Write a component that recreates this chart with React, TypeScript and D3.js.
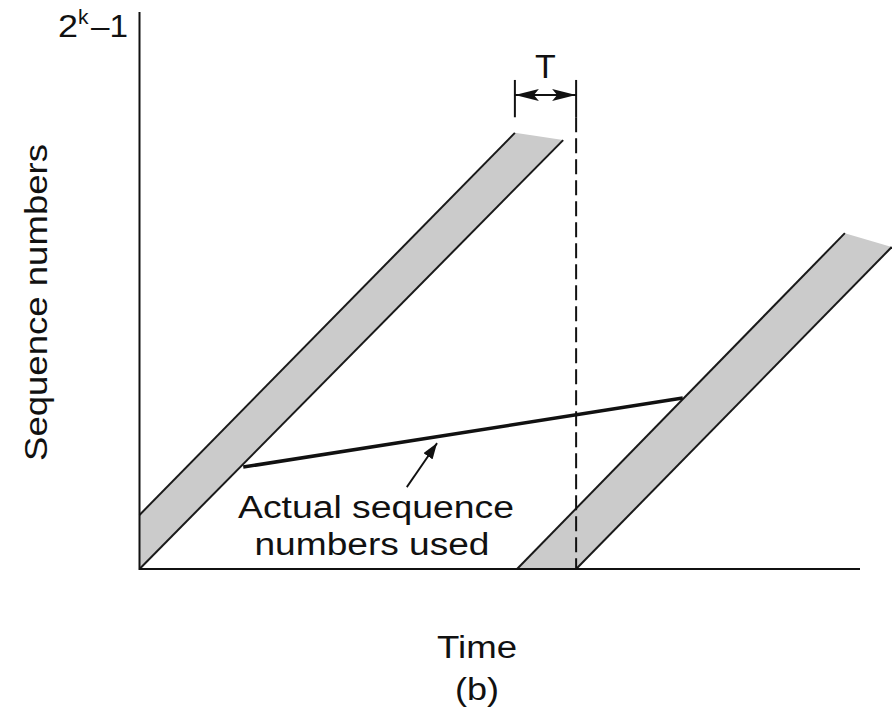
import React from "react";
import * as d3 from "d3";

const W = 892;
const H = 720;

// Abstract units: time 0..100 along x-axis, sequence number 0..100 (= 2^k-1) along y-axis
const timeDomain = [0, 100];
const seqDomain = [0, 100];

// Forbidden-region bands, polygon corners as [time, seq]
const band1Left = [[0, 9.7], [52.1, 78.3]];
const band1Right = [[0, 0], [58.8, 77.0]];
const band2Left = [[52.4, 0], [97.9, 60.3]];
const band2Right = [[60.6, 0], [104.4, 57.8]];

// Actual sequence numbers used
const actualUsed = [[14.4, 18.3], [75.4, 30.7]];

// T interval marker
const tInterval = [52.1, 60.6];
const tArrowSeq = 85.1;
const tTickSeq = [81.1, 87.8];

// annotation arrow [tail, tip]
const annotationArrow = [[37.1, 14.7], [41.3, 22.6]];

// labels
const yAxisLabel = "Sequence numbers";
const xAxisLabel = "Time";
const caption = "(b)";
const annotationLines = ["Actual sequence", "numbers used"];
const tLabel = "T";

export default function App() {
  const x = d3.scaleLinear().domain(timeDomain).range([139.5, 860]);
  const y = d3.scaleLinear().domain(seqDomain).range([569, 12]);
  const line = d3
    .line<number[]>()
    .x((d) => x(d[0]))
    .y((d) => y(d[1]));

  const poly = (l: number[][], r: number[][]) =>
    line([l[0], l[1], r[1], r[0]]) + "Z";

  const edge = "#1a1a1a";
  const font = "'Liberation Sans', Arial, Helvetica, sans-serif";

  return (
    <svg
      width={W}
      height={H}
      style={{ position: "absolute", left: 0, top: 0, background: "#fff" }}
      fontFamily={font}
    >
      <defs>
        <marker
          id="dblHead"
          viewBox="0 0 24 12"
          refX="24"
          refY="6"
          markerWidth="24"
          markerHeight="12"
          markerUnits="userSpaceOnUse"
          orient="auto-start-reverse"
        >
          <path d="M0,0 L24,6 L0,12 L5,6 Z" fill="#111" />
        </marker>
        <marker
          id="annHead"
          viewBox="0 0 16 11"
          refX="16"
          refY="5.5"
          markerWidth="16"
          markerHeight="11"
          markerUnits="userSpaceOnUse"
          orient="auto"
        >
          <path d="M0,0 L16,5.5 L0,11 Z" fill="#111" />
        </marker>
      </defs>

      {/* bands */}
      <path d={poly(band1Left, band1Right)} fill="#cbcbcb" stroke="none" />
      <path d={poly(band2Left, band2Right)} fill="#cbcbcb" stroke="none" />
      {[band1Left, band1Right, band2Left, band2Right].map((seg, i) => (
        <path key={i} d={line(seg) || ""} stroke={edge} strokeWidth={2} fill="none" />
      ))}

      {/* axes */}
      <path d={line([[0, 100], [0, 0], [100, 0]]) || ""} stroke="#111" strokeWidth={2} fill="none" />

      {/* dashed vertical line */}
      <path
        d={line([[tInterval[1], tTickSeq[0]], [tInterval[1], 0]]) || ""}
        stroke="#111"
        strokeWidth={2}
        strokeDasharray="15,6"
        fill="none"
      />
      {/* T ticks */}
      {tInterval.map((t, i) => (
        <path
          key={i}
          d={line([[t, tTickSeq[0]], [t, tTickSeq[1]]]) || ""}
          stroke="#111"
          strokeWidth={2}
        />
      ))}
      <path
        d={line([[tInterval[0], tArrowSeq], [tInterval[1], tArrowSeq]]) || ""}
        stroke="#111"
        strokeWidth={2}
        markerStart="url(#dblHead)"
        markerEnd="url(#dblHead)"
      />
      <text
        x={x((tInterval[0] + tInterval[1]) / 2)}
        y={y(tTickSeq[1]) - 2}
        fontSize={34}
        textAnchor="middle"
        fill="#111"
      >
        {tLabel}
      </text>

      {/* actual sequence numbers used */}
      <path d={line(actualUsed) || ""} stroke="#111" strokeWidth={3.5} fill="none" />
      <path
        d={line(annotationArrow) || ""}
        stroke="#111"
        strokeWidth={1.8}
        fill="none"
        markerEnd="url(#annHead)"
      />
      <text
        x={376}
        y={518}
        fontSize={31}
        textAnchor="middle"
        fill="#111"
        textLength={276}
        lengthAdjust="spacingAndGlyphs"
      >
        {annotationLines[0]}
      </text>
      <text
        x={372}
        y={555}
        fontSize={31}
        textAnchor="middle"
        fill="#111"
        textLength={235}
        lengthAdjust="spacingAndGlyphs"
      >
        {annotationLines[1]}
      </text>

      {/* y-axis top label 2^k-1 */}
      <g fill="#111">
        <text x={58} y={y(100) + 25} fontSize={31} textLength={20} lengthAdjust="spacingAndGlyphs">
          2
        </text>
        <text x={78} y={y(100) + 12} fontSize={21}>
          k
        </text>
        <text x={91} y={y(100) + 25} fontSize={31} textLength={37} lengthAdjust="spacingAndGlyphs">
          –1
        </text>
      </g>

      {/* axis titles */}
      <text
        transform={`translate(47, ${(y(0) + y(100)) / 2 + 12}) rotate(-90)`}
        fontSize={32}
        textAnchor="middle"
        fill="#111"
        textLength={317}
        lengthAdjust="spacingAndGlyphs"
      >
        {yAxisLabel}
      </text>
      <text
        x={477}
        y={658}
        fontSize={31}
        textAnchor="middle"
        fill="#111"
        textLength={80}
        lengthAdjust="spacingAndGlyphs"
      >
        {xAxisLabel}
      </text>
      <text
        x={477}
        y={700}
        fontSize={31}
        textAnchor="middle"
        fill="#111"
        textLength={44}
        lengthAdjust="spacingAndGlyphs"
      >
        {caption}
      </text>
    </svg>
  );
}
